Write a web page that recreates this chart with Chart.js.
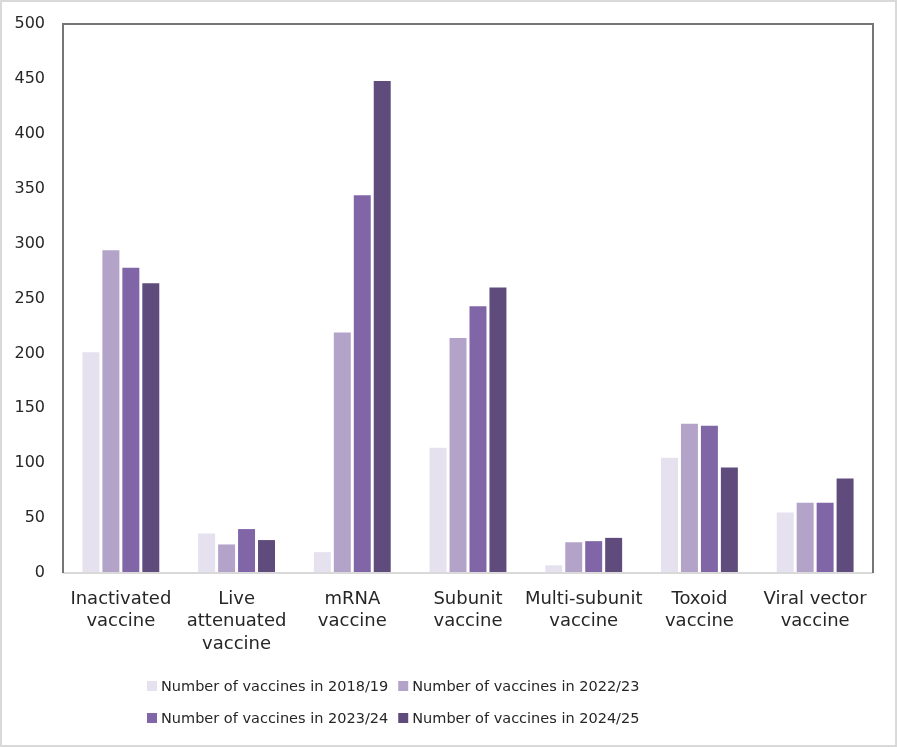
<!DOCTYPE html>
<html><head><meta charset="utf-8">
<script src="https://cdn.jsdelivr.net/npm/chart.js@4.4.1/dist/chart.umd.min.js"></script>
<style>html,body{margin:0;padding:0;background:#fff}#wrap{width:897px;height:747px;position:relative}</style>
</head><body><div id="wrap"><canvas id="c" width="897" height="747"></canvas></div>
<script>
const categories = [["Inactivated","vaccine"],["Live","attenuated","vaccine"],["mRNA","vaccine"],["Subunit","vaccine"],["Multi-subunit","vaccine"],["Toxoid","vaccine"],["Viral vector","vaccine"]];
const seriesNames = ["Number of vaccines in 2018/19","Number of vaccines in 2022/23","Number of vaccines in 2023/24","Number of vaccines in 2024/25"];
const v2018 = [201, 36, 19, 114, 7, 105, 55];
const v2022 = [294, 26, 219, 214, 28, 136, 64];
const v2023 = [278, 40, 344, 243, 29, 134, 64];
const v2024 = [264, 30, 448, 260, 32, 96, 86];
const colors = ["#E6E1EE","#B3A3C9","#8065A7","#5F4B7C"];
const yMax = 500, yStep = 50;

const FONT = "'DejaVu Sans', sans-serif";
const TEXT = '#262626';
const frame = {
  id:'frame',
  beforeDraw(chart){
    const ctx = chart.ctx;
    ctx.save();
    ctx.fillStyle='#fff'; ctx.fillRect(0,0,chart.width,chart.height);
    ctx.strokeStyle='#D9D9D9'; ctx.lineWidth=2;
    ctx.strokeRect(1,1,chart.width-2,chart.height-2);
    ctx.restore();
  },
  afterDatasetsDraw(chart){
    const {ctx, chartArea:a} = chart;
    ctx.save();
    ctx.strokeStyle='#D9D9D9'; ctx.lineWidth=2;
    ctx.beginPath(); ctx.moveTo(a.left,a.bottom); ctx.lineTo(a.right,a.bottom); ctx.stroke();
    ctx.strokeStyle='#767676'; ctx.lineWidth=2;
    ctx.beginPath(); ctx.moveTo(a.left,a.bottom); ctx.lineTo(a.left,a.top); ctx.lineTo(a.right,a.top); ctx.lineTo(a.right,a.bottom); ctx.stroke();
    ctx.restore();
  },
  afterDraw(chart){
    // legend: 2 columns x 2 rows
    const ctx = chart.ctx;
    const ds = chart.data.datasets;
    ctx.save();
    ctx.font = "14.5px " + FONT;
    ctx.textBaseline = 'middle';
    ctx.textAlign = 'left';
    const box = 10, gap = 4, colGap = 10;
    const w = ds.map(d => box + gap + ctx.measureText(d.label).width);
    const col0 = Math.max(w[0], w[2]);
    const x0 = 147;
    const xs = [x0, x0 + col0 + colGap];
    const ys = [686, 718];
    ds.forEach((d, i) => {
      const x = xs[i % 2], y = ys[Math.floor(i / 2)];
      ctx.fillStyle = d.backgroundColor;
      ctx.fillRect(x, y - box/2, box, box);
      ctx.fillStyle = TEXT;
      ctx.fillText(d.label, x + box + gap, y + 1);
    });
    ctx.restore();
  }
};
const data = [v2018,v2022,v2023,v2024];
new Chart(document.getElementById('c'),{
  type:'bar',
  data:{labels:categories,datasets:seriesNames.map((n,i)=>({label:n,data:data[i],backgroundColor:colors[i],borderWidth:0,categoryPercentage:0.69,barPercentage:0.85}))},
  options:{
    responsive:false, animation:false, devicePixelRatio:1,
    layout:{padding:{top:24,right:24,left:0,bottom:88}},
    plugins:{
      legend:{display:false},
      tooltip:{enabled:false}
    },
    scales:{
      x:{grid:{display:false,drawTicks:false},border:{display:false},
        ticks:{font:{family:FONT,size:18,lineHeight:1.25},color:TEXT,maxRotation:0,autoSkip:false,padding:15},
        afterFit(s){s.height=86;}},
      y:{min:0,max:yMax,grid:{display:false,drawTicks:true,tickLength:18},border:{display:false},
        ticks:{stepSize:yStep,font:{family:FONT,size:16},color:TEXT,padding:0},
        afterFit(s){s.width=63;}}
    }
  },
  plugins:[frame]
});
</script></body></html>
